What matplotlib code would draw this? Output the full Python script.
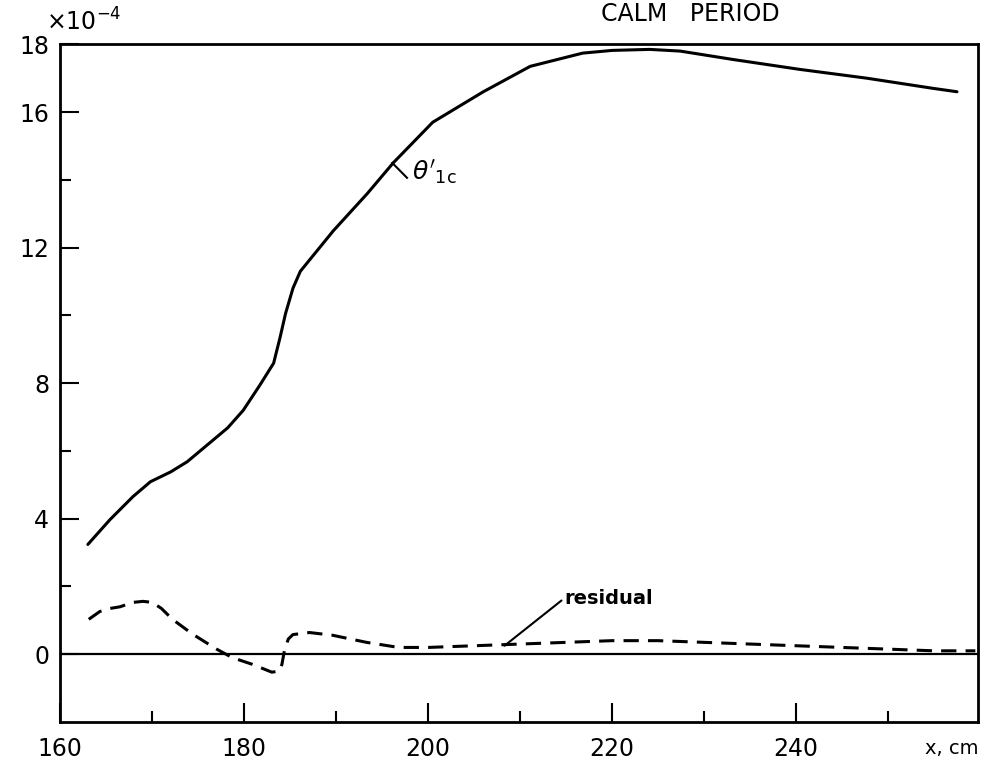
import numpy as np
import matplotlib.pyplot as plt

# theta'_1c curve (units of 1e-4)
theta_x = [163.0, 165.4, 167.9, 169.8, 172.0, 173.8, 176.0, 178.2, 179.9, 181.7,
           183.2, 183.9, 184.5, 185.3, 186.1, 189.7, 193.4, 196.2, 200.5, 206.0,
           211.1, 216.8, 220.0, 224.1, 227.4, 233.2, 240.4, 247.7, 254.9, 257.5]
theta_y = [3.24, 3.97, 4.65, 5.09, 5.38, 5.68, 6.18, 6.68, 7.2, 7.94,
           8.59, 9.35, 10.06, 10.8, 11.3, 12.5, 13.6, 14.5, 15.7, 16.6,
           17.35, 17.74, 17.82, 17.85, 17.8, 17.55, 17.26, 17.0, 16.7, 16.6]

# residual (dashed)
resid_x = [163.1, 164.3, 165.4, 166.5, 167.9, 169.0, 170.0, 171.0, 172.2, 174.4,
           177.0, 178.7, 180.9, 183.0, 183.8, 184.1, 184.4, 184.8, 185.3, 187.1,
           189.6, 193.3, 196.8, 200.0, 205.0, 210.0, 215.0, 220.0, 225.0, 230.0,
           235.0, 240.0, 245.0, 250.0, 255.0, 259.5]
resid_y = [1.03, 1.26, 1.35, 1.4, 1.53, 1.56, 1.53, 1.35, 1.03, 0.59,
           0.15, -0.1, -0.3, -0.53, -0.5, -0.3, 0.15, 0.45, 0.58, 0.64,
           0.56, 0.35, 0.2, 0.2, 0.25, 0.3, 0.35, 0.4, 0.4, 0.35,
           0.3, 0.25, 0.2, 0.15, 0.1, 0.1]

xticks = [160, 180, 200, 220, 240]
xminor = [170, 190, 210, 230, 250]
yticks = [0, 4, 8, 12, 16, 18]
yminor = [2, 6, 10, 14]

fig = plt.figure(figsize=(9.88, 7.64), dpi=100)
ax = fig.add_axes([0.061, 0.055, 0.929, 0.887])

ax.plot(theta_x, theta_y, color='k', lw=2.2, solid_capstyle='round')
ax.plot(resid_x, resid_y, color='k', lw=2.2, ls=(0, (5, 3)))
ax.axhline(0, color='k', lw=1.6)

ax.set_xlim(160, 259.8)
ax.set_ylim(-2, 18)

ax.set_xticks(xticks)
ax.set_xticks(xminor, minor=True)
ax.set_yticks(yticks)
ax.set_yticks(yminor, minor=True)
ax.tick_params(which='major', direction='in', length=14, width=1.5, labelsize=17)
ax.tick_params(which='minor', direction='in', length=8, width=1.5)
ax.tick_params(axis='x', which='major', pad=11)
ax.tick_params(axis='y', which='major', pad=8)
for s in ax.spines.values():
    s.set_linewidth(2)

# labels
ax.text(158.4, 18.25, r'$\times10^{-4}$', fontsize=17, ha='left', va='bottom')
ax.text(259.8, -2.5, 'x, cm', fontsize=14, ha='right', va='top')
fig.text(690/988, 1 - 2/764, 'CALM   PERIOD', fontsize=17, ha='center', va='top')

ax.plot([196.1, 197.7], [14.5, 14.06], color='k', lw=1.5)
ax.text(198.2, 14.2, r"$\theta'_{\rm 1c}$", fontsize=18, ha='left', va='center')

ax.annotate('residual', xy=(208.3, 0.25), xytext=(214.8, 1.65),
            fontsize=14, fontweight='bold', ha='left', va='center',
            arrowprops=dict(arrowstyle='-', lw=1.5, shrinkA=0, shrinkB=0,
                            relpos=(0, 0.5)))

fig.savefig('out.png', dpi=100)
